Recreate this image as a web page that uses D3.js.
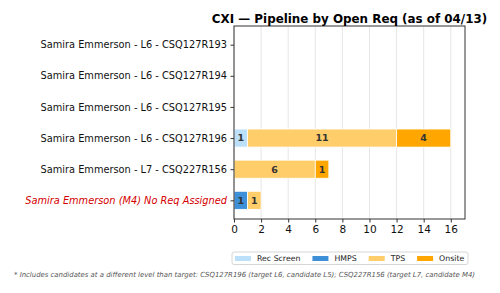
<!DOCTYPE html>
<html>
<head>
<meta charset="utf-8">
<script src="https://cdn.jsdelivr.net/npm/d3@7"></script>
<style>
  body { margin: 0; background: #fff; }
  text { font-family: "DejaVu Sans", sans-serif; }
</style>
</head>
<body>
<div id="chart"></div>
<script>
// Data.
var reqs = [
    'Samira Emmerson - L6 - CSQ127R193',
    'Samira Emmerson - L6 - CSQ127R194',
    'Samira Emmerson - L6 - CSQ127R195',
    'Samira Emmerson - L6 - CSQ127R196',
    'Samira Emmerson - L7 - CSQ227R156',
    'Samira Emmerson (M4) No Req Assigned'
];
var stages = ['Rec Screen', 'HMPS', 'TPS', 'Onsite'];
var recScreen = [0, 0, 0, 1, 0, 0];
var hmps      = [0, 0, 0, 0, 0, 1];
var tps       = [0, 0, 0, 11, 6, 1];
var onsite    = [0, 0, 0, 4, 1, 0];
var xTicks = [0, 2, 4, 6, 8, 10, 12, 14, 16];

var colors = ['#bcdffa', '#3d8fd8', '#ffcd69', '#ffa600'];

var W = 500, H = 293;
var margin = {left: 234, right: 35, top: 26, bottom: 74};
var width = W - margin.left - margin.right,
    height = H - margin.top - margin.bottom;

var svg = d3.select('#chart')
    .append('svg')
        .attr('width', W)
        .attr('height', H);

var g = svg.append('g')
    .attr('transform', 'translate(' + margin.left + ', ' + margin.top + ')');

// Build rows for the stack.
var rows = reqs.map(function(r, i){
    return {req: r, 'Rec Screen': recScreen[i], 'HMPS': hmps[i], 'TPS': tps[i], 'Onsite': onsite[i]};
});
var series = d3.stack().keys(stages)(rows);

var x = d3.scaleLinear()
    .domain([0, 17.05])
    .range([0, width]);

var y = d3.scaleLinear()
    .domain([-0.6, reqs.length - 0.4])
    .range([0, height]);

var barH = y(0.29) - y(-0.29);

// Vertical grid lines.
g.append('g')
    .selectAll('line')
    .data(xTicks)
    .enter().append('line')
        .attr('x1', function(d){ return x(d); })
        .attr('x2', function(d){ return x(d); })
        .attr('y1', 0)
        .attr('y2', height)
        .attr('stroke', '#e6e6e6')
        .attr('stroke-width', 1);

// Bars.
var layers = g.selectAll('g.layer')
    .data(series)
    .enter().append('g')
        .attr('class', 'layer')
        .attr('fill', function(d, i){ return colors[i]; });

layers.selectAll('rect')
    .data(function(d){ return d.filter(function(p){ return p[1] - p[0] > 0; }); })
    .enter().append('rect')
        .attr('x', function(d){ return x(d[0]); })
        .attr('width', function(d){ return x(d[1]) - x(d[0]); })
        .attr('y', function(d){ return y(reqs.indexOf(d.data.req)) - barH / 2; })
        .attr('height', barH)
        .attr('stroke', '#fff')
        .attr('stroke-width', 0.8);

// Segment value labels.
layers.selectAll('text')
    .data(function(d){ return d.filter(function(p){ return p[1] - p[0] > 0; }); })
    .enter().append('text')
        .attr('x', function(d){ return x((d[0] + d[1]) / 2); })
        .attr('y', function(d){ return y(reqs.indexOf(d.data.req)); })
        .attr('dy', '0.35em')
        .attr('text-anchor', 'middle')
        .attr('font-size', '9.5px')
        .attr('font-weight', 'bold')
        .attr('fill', '#333')
        .text(function(d){ return d[1] - d[0]; });

// Axes.
var xAxis = g.append('g')
    .attr('transform', 'translate(0, ' + height + ')')
    .call(d3.axisBottom(x).tickValues(xTicks).tickSize(3.5).tickPadding(3));

var yAxis = g.append('g')
    .call(d3.axisLeft(y).tickValues(d3.range(reqs.length)).tickFormat(function(i){ return reqs[i]; }).tickSize(3.5).tickPadding(3.5));

xAxis.select('.domain').remove();
yAxis.select('.domain').remove();
xAxis.selectAll('text').attr('font-size', '10.5px').attr('fill', '#111').style('font-family', '"DejaVu Sans", sans-serif');
yAxis.selectAll('text').attr('font-size', '9.8px').attr('fill', '#111').style('font-family', '"DejaVu Sans", sans-serif');
xAxis.selectAll('line').attr('stroke', '#333');
yAxis.selectAll('line').attr('stroke', '#333');

// The last label is the unassigned one: red italic.
yAxis.selectAll('.tick text')
    .filter(function(i){ return i === reqs.length - 1; })
    .attr('fill', '#d40000')
    .style('font-style', 'italic');

// Frame.
g.append('rect')
    .attr('width', width)
    .attr('height', height)
    .attr('fill', 'none')
    .attr('stroke', '#333')
    .attr('stroke-width', 1);

// Title.
svg.append('text')
    .attr('x', margin.left + width / 2)
    .attr('y', 23)
    .attr('text-anchor', 'middle')
    .attr('font-size', '11.9px')
    .attr('font-weight', 'bold')
    .attr('fill', '#000')
    .text('CXI \u2014 Pipeline by Open Req (as of 04/13)');

// Legend.
var legend = svg.append('g')
    .attr('transform', 'translate(232, 252)');

legend.append('rect')
    .attr('width', 236)
    .attr('height', 12.5)
    .attr('rx', 2)
    .attr('fill', '#fff')
    .attr('stroke', '#ccc')
    .attr('stroke-width', 0.8);

var lx = 3;
stages.forEach(function(s, i){
    legend.append('rect')
        .attr('x', lx)
        .attr('y', 4)
        .attr('width', 16)
        .attr('height', 5)
        .attr('fill', colors[i]);
    var t = legend.append('text')
        .attr('x', lx + 22)
        .attr('y', 6.5)
        .attr('dy', '0.35em')
        .attr('font-size', '7.8px')
        .attr('fill', '#222')
        .text(s);
    lx += 22 + t.node().getComputedTextLength() + 12;
});

// Footnote.
svg.append('text')
    .attr('x', 14)
    .attr('y', 277)
    .attr('font-size', '7px')
    .attr('font-style', 'italic')
    .attr('fill', '#555')
    .attr('textLength', 461)
    .attr('lengthAdjust', 'spacingAndGlyphs')
    .text('* Includes candidates at a different level than target: CSQ127R196 (target L6, candidate L5); CSQ227R156 (target L7, candidate M4)');
</script>
</body>
</html>
